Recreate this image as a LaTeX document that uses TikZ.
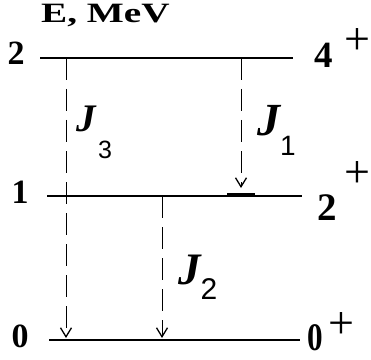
\documentclass[tikz,border=0pt]{standalone}
\usepackage{fontspec}
\setmainfont{Liberation Serif}
\setsansfont{Liberation Sans}
\usetikzlibrary{arrows.meta, positioning}

\tikzset{
  level/.style={line width=1.3pt},
  gamma/.style={line width=0.9pt, dash pattern=on 22pt off 9pt,
    -{Straight Barb[length=9pt, width=11pt, line width=1.3pt]}},
  energy/.style={font=\bfseries\fontsize{34}{34}\selectfont, inner sep=0pt, anchor=base},
  spin/.style={font=\bfseries\fontsize{37}{37}\selectfont, inner sep=0pt, anchor=base},
  parity/.style={font=\fontsize{46}{46}\selectfont, inner sep=0pt},
  trans/.style={inner sep=0pt},
  sub/.style={font=\sffamily\fontsize{25}{25}\selectfont, inner sep=0pt},
}

\begin{document}
\begin{tikzpicture}[x=1pt, y=1pt]
\useasboundingbox (0,0) rectangle (371,359);

% levels
\coordinate (l2w) at (40,301);  \coordinate (l2e) at (293,301);
\coordinate (l1w) at (47,163);  \coordinate (l1e) at (302,163);
\coordinate (l0w) at (49,19);   \coordinate (l0e) at (300,19);
\draw[level] (l2w) -- (l2e);
\draw[level] (l1w) -- (l1e);
\draw[line width=2.8pt] (l0w) -- (l0e);

% feeding bar on the 2+ level
\coordinate (barw) at (227,164.5); \coordinate (bare) at (255,164.5);
\draw[line width=4pt] (barw) -- (bare);

% energy axis
\node[font=\bfseries\fontsize{28}{28}\selectfont, inner sep=0pt, anchor=base west] (axis) at (41,336) {\scalebox{1.4}[1]{E, MeV}};
\node[energy] (e2) at (16,294) {2};
\node[energy] (e1) at (20,156) {1};
\node[energy] (e0) at (20,12) {0};

% spins
\node[spin] (s4) at (324,291) {4};
\node[parity] (p4) at (357,317) {+};
\node[spin, font=\bfseries\fontsize{39}{39}\selectfont] (s2) at (327,139) {2};
\node[parity] (p2) at (357,184) {+};
\node[spin, font=\bfseries\fontsize{39}{39}\selectfont] (s0) at (315,9) {\scalebox{0.8}[1]{0}};
\node[parity] (p0) at (341,33) {+};

% transitions
\coordinate (j3a) at (66,301);  \coordinate (j3b) at (66,21);
\coordinate (j1a) at (241,301); \coordinate (j1b) at (241,171);
\coordinate (j2a) at (162,163); \coordinate (j2b) at (162,21);
\draw[gamma] (j3a) -- (j3b);
\draw[gamma] (j1a) -- (j1b);
\draw[gamma] (j2a) -- (j2b);

\node[trans, font=\bfseries\itshape\fontsize{39}{39}\selectfont] (J3) at (86,240) {J};
\node[sub] (n3) at (105,209) {3};
\node[trans, font=\bfseries\itshape\fontsize{46}{46}\selectfont] (J1) at (269,238) {J};
\node[sub, font=\sffamily\fontsize{28}{28}\selectfont] (n1) at (288,213) {1};
\node[trans, font=\bfseries\itshape\fontsize{45}{45}\selectfont] (J2) at (190,89) {J};
\node[sub, font=\sffamily\fontsize{30}{30}\selectfont] (n2) at (209,70) {2};
\end{tikzpicture}
\end{document}
